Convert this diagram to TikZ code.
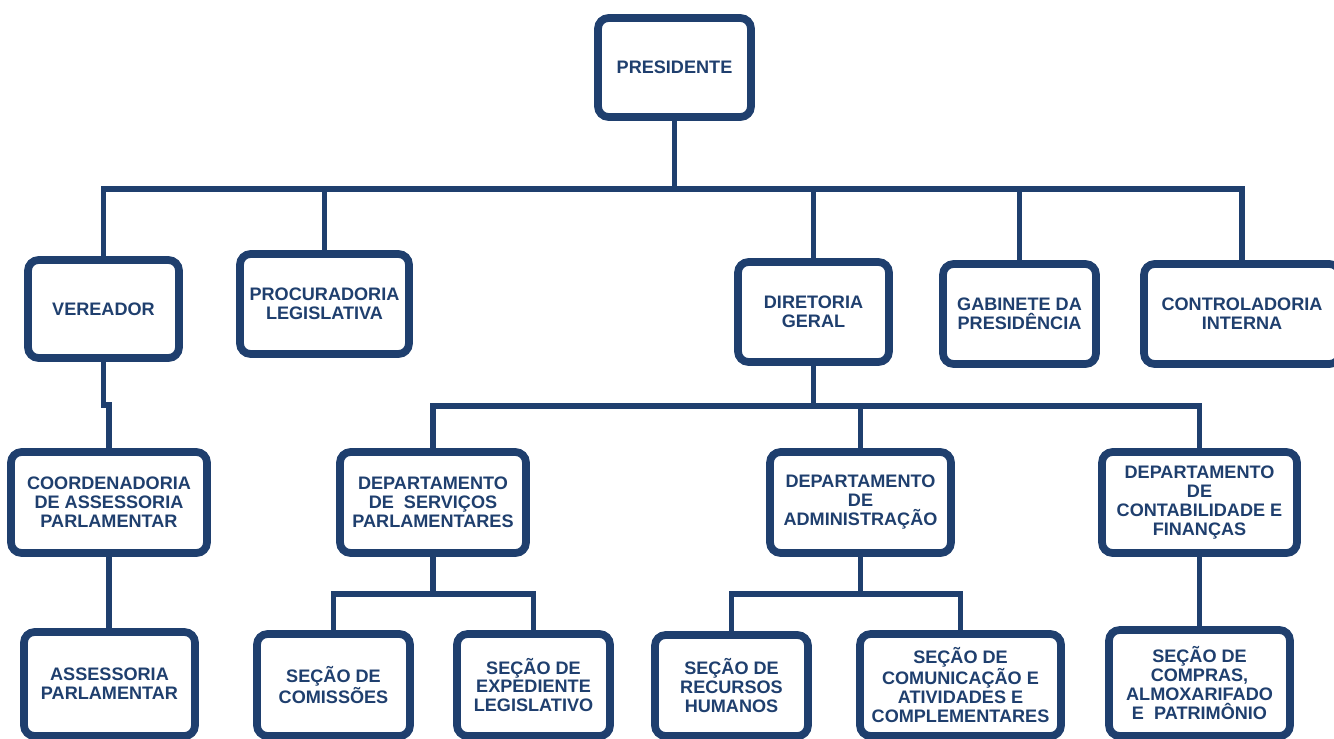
\documentclass[tikz,border=0pt]{standalone}
\usepackage{fontspec}
\setmainfont{Liberation Sans}
\usetikzlibrary{shadows}
\definecolor{orgblue}{RGB}{31,63,110}
\tikzset{
  unit/.style={draw=orgblue, line width=4.4pt, rounded corners=6pt, fill=white,
    align=center, text=orgblue, inner sep=1pt,
    font=\bfseries\fontsize{10.3}{10.8}\selectfont,
    drop shadow={shadow xshift=1.2pt, shadow yshift=-2pt, opacity=0.25}},
  conn/.style={draw=orgblue, line width=3.3pt}
}
\begin{document}
\begin{tikzpicture}[x=0.02cm, y=-0.02cm]
    \useasboundingbox (0,0) rectangle (1334,738);
    \clip (0,0) rectangle (1334,738);

    % top
    \node[unit, minimum width=3.06cm, minimum height=1.98cm] (pres) at (674.5,67.5) {PRESIDENTE};

    % second row
    \node[unit, minimum width=3.02cm, minimum height=1.96cm] (ver) at (103.5,309) {VEREADOR};
    \node[unit, minimum width=3.38cm, minimum height=2.0cm] (proc) at (324.5,304) {PROCURADORIA\\LEGISLATIVA};
    \node[unit, minimum width=3.02cm, minimum height=2.0cm] (dir) at (813.5,312) {DIRETORIA\\GERAL};
    \node[unit, minimum width=3.06cm, minimum height=2.0cm] (gab) at (1019.5,314) {GABINETE DA\\PRESIDÊNCIA};
    \node[unit, minimum width=3.92cm, minimum height=2.0cm] (ctrl) at (1242,314) {CONTROLADORIA\\INTERNA};

    % third row
    \node[unit, minimum width=3.92cm, minimum height=2.02cm] (coord) at (109,502.5) {COORDENADORIA\\DE ASSESSORIA\\PARLAMENTAR};
    \node[unit, minimum width=3.72cm, minimum height=2.02cm] (dsp) at (433,502.5) {DEPARTAMENTO\\DE~ SERVIÇOS\\PARLAMENTARES};
    \node[unit, minimum width=3.62cm, minimum height=2.02cm] (adm) at (860.5,502.5) {DEPARTAMENTO\\DE\\ADMINISTRAÇÃO};
    \node[unit, minimum width=3.9cm, minimum height=2.02cm] (cont) at (1199.5,502.5) {DEPARTAMENTO\\DE\\CONTABILIDADE E\\FINANÇAS};

    % fourth row
    \node[unit, minimum width=3.42cm, minimum height=2.08cm] (ass) at (109.5,684) {ASSESSORIA\\PARLAMENTAR};
    \node[unit, minimum width=3.06cm, minimum height=2.04cm] (com) at (333.5,685) {SEÇÃO DE\\COMISSÕES};
    \node[unit, minimum width=3.06cm, minimum height=2.04cm] (exp) at (533.5,685) {SEÇÃO DE\\EXPEDIENTE\\LEGISLATIVO};
    \node[unit, minimum width=3.06cm, minimum height=2.02cm] (rh) at (731.5,685.5) {SEÇÃO DE\\RECURSOS\\HUMANOS};
    \node[unit, minimum width=4.02cm, minimum height=2.04cm] (comu) at (960.5,685) {SEÇÃO DE\\COMUNICAÇÃO E\\ATIVIDADES E\\COMPLEMENTARES};
    \node[unit, minimum width=3.62cm, minimum height=2.12cm] (comp) at (1199.5,683) {SEÇÃO DE\\COMPRAS,\\ALMOXARIFADO\\E~ PATRIMÔNIO};

    % connectors
    \coordinate (bus1) at (0,189);
    \coordinate (bus2) at (0,406);
    \coordinate (jog) at (0,405);
    \coordinate (bus3) at (0,594);

    \draw[conn] (pres.south) -- (pres.south |- bus1);
    \draw[conn] (ver.north) |- (ctrl.north |- bus1) -- (ctrl.north);
    \foreach \n in {proc,dir,gab}
      \draw[conn] (\n.north) -- (\n.north |- bus1);

    \draw[conn] (ver.south) -- (ver.south |- jog) -- (coord.north |- jog) -- (coord.north);
    \draw[conn] (coord.south) -- (coord.south |- ass.north);

    \draw[conn] (dir.south) -- (dir.south |- bus2);
    \draw[conn] (dsp.north) |- (cont.north |- bus2) -- (cont.north);
    \draw[conn] (adm.north) -- (adm.north |- bus2);

    \draw[conn] (dsp.south) -- (dsp.south |- bus3);
    \draw[conn] (com.north) |- (exp.north |- bus3) -- (exp.north);
    \draw[conn] (adm.south) -- (adm.south |- bus3);
    \draw[conn] (rh.north) |- (comu.north |- bus3) -- (comu.north);
    \draw[conn] (cont.south) -- (cont.south |- comp.north);
  \end{tikzpicture}
\end{document}
